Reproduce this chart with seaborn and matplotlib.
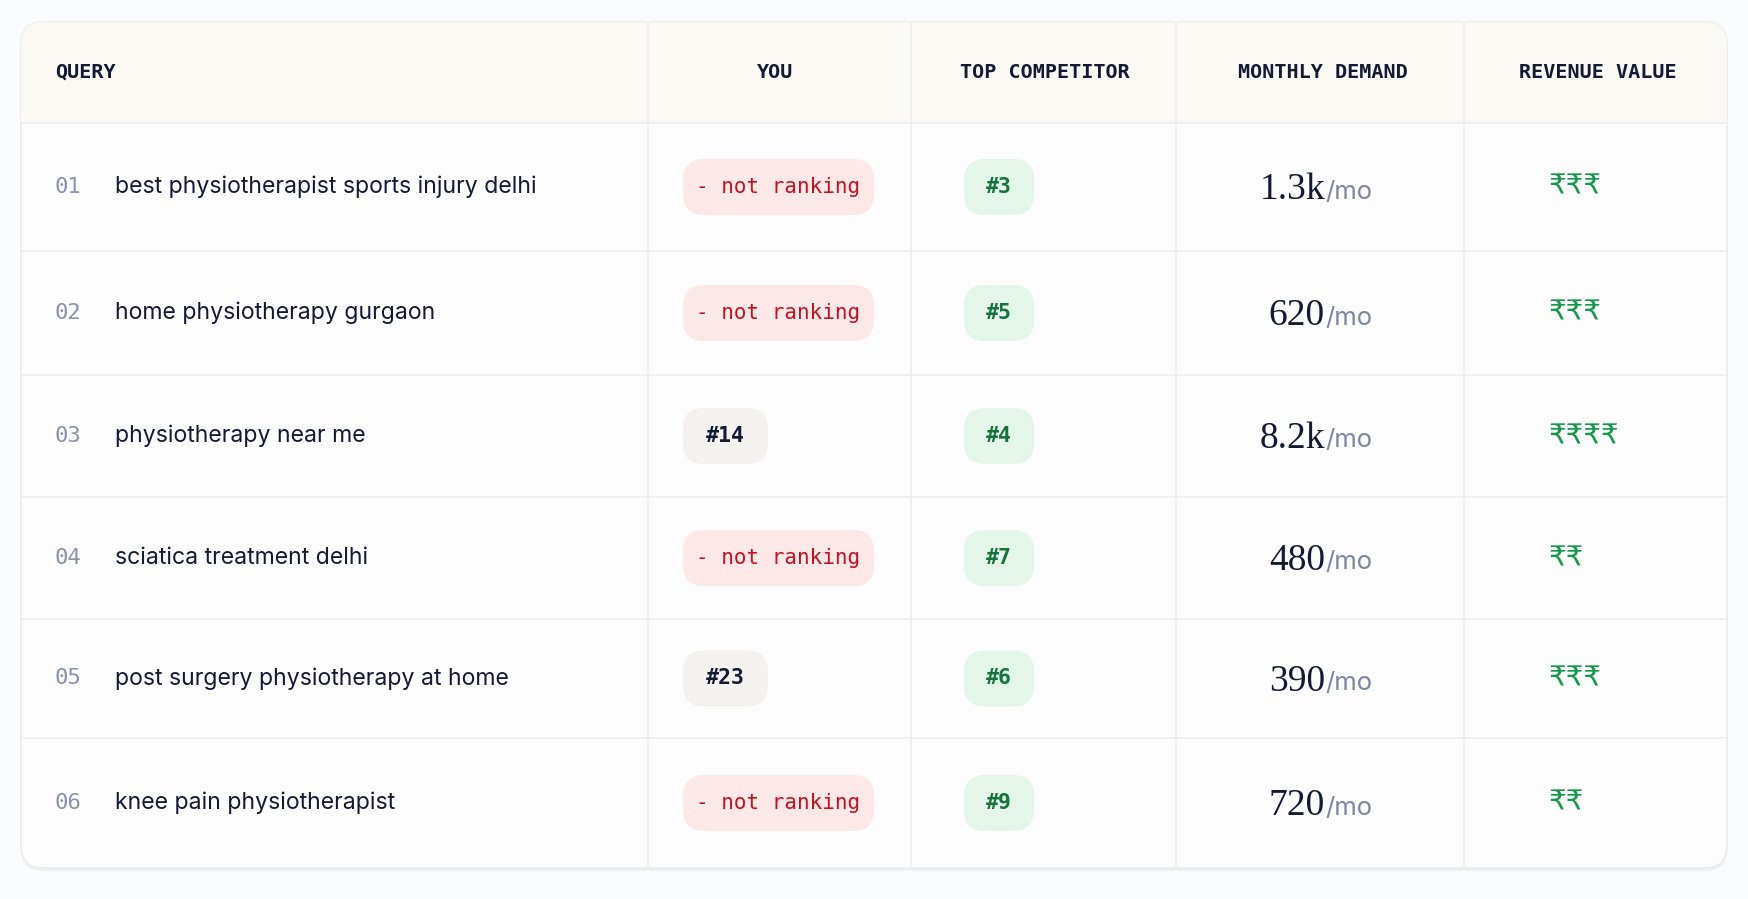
import matplotlib
matplotlib.use("Agg")
import matplotlib.pyplot as plt
from matplotlib.patches import FancyBboxPatch, Rectangle
import seaborn as sns

sns.set_theme(style="white")
plt.rcParams['font.family'] = ['Inter', 'Noto Sans', 'DejaVu Sans']

headers = ["QUERY", "YOU", "TOP COMPETITOR", "MONTHLY DEMAND", "REVENUE VALUE"]
row_nums = ["01", "02", "03", "04", "05", "06"]
queries = ["best physiotherapist sports injury delhi", "home physiotherapy gurgaon",
           "physiotherapy near me", "sciatica treatment delhi",
           "post surgery physiotherapy at home", "knee pain physiotherapist"]
you_rank = [None, None, 14, None, 23, None]
competitor_rank = [3, 5, 4, 7, 6, 9]
demand = ["1.3k", "620", "8.2k", "480", "390", "720"]
revenue = [3, 3, 4, 2, 3, 2]

W, H = 1748, 899
fig = plt.figure(figsize=(W / 100, H / 100), dpi=100)
fig.patch.set_facecolor("#fbfcfd")
ax = fig.add_axes([0, 0, 1, 1])
ax.set_xlim(0, W); ax.set_ylim(H, 0); ax.axis("off")

L, R, T, B = 21, 1727, 22, 868
hdr_b = 123
row_edges = [123, 251, 375, 497, 619, 738, 868]
col_lines = [648, 911, 1176, 1464]
col_centers = [None, 775, 1045, 1323, 1598]

ax.add_patch(FancyBboxPatch((L, T + 3), R - L, B - T, boxstyle="round,pad=0,rounding_size=22",
                            fc="#eef0f4", ec="none", zorder=0))
ax.add_patch(FancyBboxPatch((L, T), R - L, B - T, boxstyle="round,pad=0,rounding_size=22",
                            fc="#fdfdfe", ec="#e8ebf0", lw=1.2, zorder=1))
card_clip = FancyBboxPatch((L, T), R - L, B - T, boxstyle="round,pad=0,rounding_size=22",
                           fc="none", ec="none", transform=ax.transData)
ax.add_patch(card_clip)
hb = Rectangle((L, T), R - L, hdr_b - T, fc="#faf9f4", ec="none", zorder=2)
ax.add_patch(hb); hb.set_clip_path(card_clip)

for y in row_edges[:-1]:
    ax.plot([L, R], [y, y], color="#eceef2", lw=1.2, zorder=3)
for x in col_lines:
    ax.plot([x, x], [T, B], color="#eceef2", lw=1.2, zorder=3)

hy = (T + hdr_b) / 2
mono = ['DejaVu Sans Mono']
ax.text(55, hy, headers[0], family=mono, weight="bold", fontsize=14.5, color="#141a33",
        ha="left", va="center", zorder=5)
for i in range(1, 5):
    ax.text(col_centers[i], hy, headers[i], family=mono, weight="bold", fontsize=14.5,
            color="#141a33", ha="center", va="center", zorder=5)

def pill(x0, x1, cy, fc):
    h = 56
    ax.add_patch(FancyBboxPatch((x0, cy - h / 2), x1 - x0, h,
                                boxstyle="round,pad=0,rounding_size=21", fc=fc, ec="none", zorder=4))

for i in range(6):
    cy = (row_edges[i] + row_edges[i + 1]) / 2
    ax.text(55, cy, row_nums[i], family=mono, fontsize=16, color="#8a93a8",
            ha="left", va="center", zorder=5)
    ax.text(115, cy, queries[i], fontsize=16.6, color="#141a33", ha="left", va="center", zorder=5)
    if you_rank[i] is None:
        pill(683, 874, cy, "#fde8e8")
        ax.text(778, cy, "- not ranking", family=mono, fontsize=15,
                color="#c4121f", ha="center", va="center", zorder=5)
    else:
        pill(683, 768, cy, "#f3f2ee")
        ax.text(725, cy, f"#{you_rank[i]}", family=mono, weight="bold", fontsize=15.5,
                color="#141a33", ha="center", va="center", zorder=5)
    pill(964, 1034, cy, "#e4f5ea")
    ax.text(999, cy, f"#{competitor_rank[i]}", family=mono, weight="bold", fontsize=15.5,
            color="#16733c", ha="center", va="center", zorder=5)
    ax.text(1325, cy + 3, demand[i], family=['Liberation Serif', 'DejaVu Serif'], fontsize=27,
            color="#141a33", ha="right", va="center", zorder=5)
    ax.text(1325, cy + 5, "/mo", fontsize=18.5, color="#7c86a0", ha="left", va="center", zorder=5)
    ax.text(1549, cy, "₹" * revenue[i], family=['DejaVu Sans', 'Noto Sans'],
            fontsize=20, color="#129a46", ha="left", va="center", zorder=5)

fig.savefig("out.png", dpi=100, facecolor=fig.get_facecolor())
